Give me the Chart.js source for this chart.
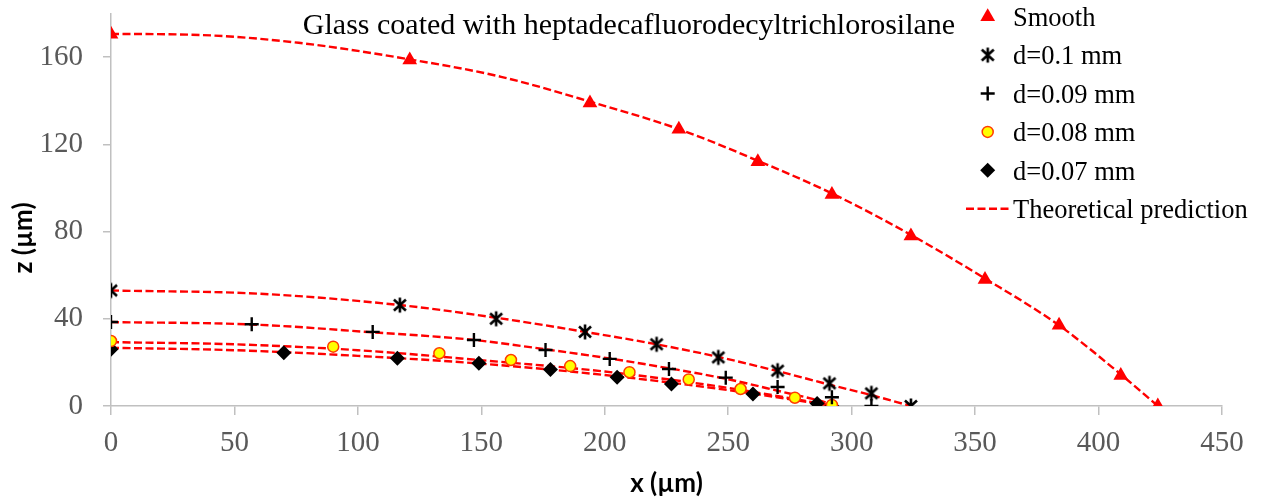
<!DOCTYPE html>
<html lang="en">
<head>
  <meta charset="UTF-8">
  <title>Glass coated with heptadecafluorodecyltrichlorosilane</title>
  <script src="https://cdn.jsdelivr.net/npm/chart.js"></script>
  <style>
    body { margin: 0; background: #fff; }
    #wrap { width: 1263px; height: 499px; position: relative; }
  </style>
</head>
<body>
<div id="wrap"><canvas id="chart"></canvas></div>

<script>
  // measured points (x in µm, z in µm)
  const smoothX = [0, 121, 194, 230, 262, 292, 324, 354, 384, 409, 424];
  const smoothZ = [170.5, 158.7, 139, 127, 112, 97, 78, 58, 37, 14, 0];
  const d01X = [0, 117, 156, 192, 221, 246, 270, 291, 308, 324];
  const d01Z = [53, 46.3, 40, 34, 28.3, 22.3, 16.2, 10.4, 5.8, 0];
  const d009X = [0, 57, 106, 147, 176, 202, 226, 249, 270, 292, 308];
  const d009Z = [38.5, 37.5, 34, 30.3, 25.7, 21.6, 17, 13, 8.7, 4, 0];
  const d008X = [0, 90, 133, 162, 186, 210, 234, 255, 277, 292];
  const d008Z = [29.8, 27.2, 24.2, 21.1, 18.3, 15.5, 12.2, 7.8, 3.8, 0.5];
  const d007X = [0, 70, 116, 149, 178, 205, 227, 260, 286, 292];
  const d007Z = [26, 24.4, 21.9, 19.6, 16.8, 13.2, 10.1, 5.5, 1.2, 0];

  // theoretical prediction curves
  const fitSmoothX = [0, 36, 76, 122, 158, 195, 230, 262, 292, 324, 354, 384, 409, 424];
  const fitSmoothZ = [170.7, 170.2, 166.6, 158.8, 151, 139.3, 127, 112.5, 97.5, 78.5, 58.5, 37, 14.5, 0];
  const fit01X = [0, 60, 117, 156, 192, 221, 246, 270, 291, 308, 324];
  const fit01Z = [53, 51.5, 46.3, 40.5, 34, 28.3, 22.5, 16, 9.8, 5, 0];
  const fit009X = [0, 57, 106, 147, 176, 202, 226, 249, 270, 290, 294];
  const fit009Z = [38.5, 37.4, 33.8, 30.3, 26, 21.8, 17.3, 12.5, 7, 1.5, 0];
  const fit008X = [0, 50, 100, 150, 200, 250, 293];
  const fit008Z = [29.3, 28.3, 25.6, 21, 15.8, 8.3, 0];
  const fit007X = [0, 50, 100, 150, 200, 250, 293];
  const fit007Z = [26.7, 25.6, 23, 19.4, 14.2, 7.3, 0];

  const xTicks = [0, 50, 100, 150, 200, 250, 300, 350, 400, 450];
  const yTicks = [0, 40, 80, 120, 160];

  const chartTitle = "Glass coated with heptadecafluorodecyltrichlorosilane";
  const legendLabels = ["Smooth", "d=0.1 mm", "d=0.09 mm", "d=0.08 mm", "d=0.07 mm", "Theoretical prediction"];

  const serif = '"Liberation Serif", "Times New Roman", serif';
  const sans = 'Lato, "Liberation Sans", sans-serif';

  function pts(xs, ys) {
    return xs.map((x, i) => ({ x, y: ys[i] }));
  }

  // excel-like asterisk marker (X plus a vertical bar)
  function makeAsterisk() {
    const c = document.createElement("canvas");
    c.width = 18; c.height = 18;
    const g = c.getContext("2d");
    g.strokeStyle = "#000";
    g.lineWidth = 2.6;
    g.beginPath();
    g.moveTo(9, 1.5); g.lineTo(9, 16.5);
    g.moveTo(3, 3.5); g.lineTo(15, 14.5);
    g.moveTo(15, 3.5); g.lineTo(3, 14.5);
    g.stroke();
    return c;
  }
  const asterisk = makeAsterisk();

  const markerSets = [
    { label: legendLabels[0], data: pts(smoothX, smoothZ), pointStyle: "triangle", pointRadius: 8.5,
      backgroundColor: "#ff0000", borderColor: "#ff0000", borderWidth: 0 },
    { label: legendLabels[1], data: pts(d01X, d01Z), pointStyle: asterisk, pointRadius: 8,
      backgroundColor: "#000", borderColor: "#000", borderWidth: 0 },
    { label: legendLabels[2], data: pts(d009X, d009Z), pointStyle: "cross", pointRadius: 7,
      backgroundColor: "#000", borderColor: "#000", borderWidth: 2.4 },
    { label: legendLabels[3], data: pts(d008X, d008Z), pointStyle: "circle", pointRadius: 5.5,
      backgroundColor: "#ffff00", borderColor: "#ff3c00", borderWidth: 1.5 },
    { label: legendLabels[4], data: pts(d007X, d007Z), pointStyle: "rectRot", pointRadius: 7.5,
      backgroundColor: "#000", borderColor: "#000", borderWidth: 0 }
  ].map(d => Object.assign(d, { showLine: false, order: 0, pointHoverRadius: d.pointRadius }));

  const fitSets = [
    pts(fitSmoothX, fitSmoothZ), pts(fit01X, fit01Z), pts(fit009X, fit009Z),
    pts(fit008X, fit008Z), pts(fit007X, fit007Z)
  ].map(data => ({
    label: legendLabels[5],
    data,
    showLine: true,
    pointRadius: 0,
    borderColor: "#ff0000",
    borderWidth: 2.4,
    borderDash: [8, 3.5],
    cubicInterpolationMode: "monotone",
    order: 1
  }));

  // title, y-axis title and legend drawn over the plot like the original
  const overlay = {
    id: "overlay",
    afterDraw(chart) {
      const ctx = chart.ctx;
      ctx.save();
      ctx.fillStyle = "#000";
      ctx.font = "30px " + serif;
      ctx.textAlign = "center";
      ctx.textBaseline = "alphabetic";
      ctx.fillText(chartTitle, 629, 34);

      // z axis title
      ctx.save();
      ctx.translate(24, 238);
      ctx.rotate(-Math.PI / 2);
      ctx.font = "bold 26px " + sans;
      ctx.textBaseline = "middle";
      ctx.fillText("z (µm)", 0, 0);
      ctx.restore();

      // legend
      ctx.textAlign = "left";
      ctx.font = "26.5px " + serif;
      legendLabels.forEach((txt, i) => {
        const base = 26 + i * 38.4;
        const my = base - 9.3;
        if (i < markerSets.length) {
          const ds = markerSets[i];
          ctx.fillStyle = ds.backgroundColor;
          ctx.strokeStyle = ds.borderColor;
          ctx.lineWidth = ds.borderWidth;
          Chart.helpers.drawPoint(ctx, {
            pointStyle: ds.pointStyle, radius: ds.pointRadius, rotation: 0, borderWidth: ds.borderWidth
          }, 987.7, my);
        } else {
          ctx.strokeStyle = "#ff0000";
          ctx.lineWidth = 2.4;
          ctx.setLineDash([8, 3.5]);
          ctx.beginPath();
          ctx.moveTo(966, my);
          ctx.lineTo(1011, my);
          ctx.stroke();
          ctx.setLineDash([]);
        }
        ctx.fillStyle = "#000";
        ctx.fillText(txt, 1013, base);
      });
      ctx.restore();
    }
  };

  new Chart(document.getElementById("chart"), {
    type: "scatter",
    data: { datasets: markerSets.concat(fitSets) },
    options: {
      responsive: true,
      maintainAspectRatio: false,
      animation: false,
      layout: { padding: { top: 13.6, right: 41, bottom: 0, left: 0 } },
      plugins: {
        legend: { display: false },
        tooltip: { enabled: false },
        title: { display: false }
      },
      scales: {
        x: {
          type: "linear",
          min: 0,
          max: 450,
          afterBuildTicks: s => { s.ticks = xTicks.map(v => ({ value: v })); },
          afterFit: s => { s.height = 93; s.paddingLeft = 0; s.paddingRight = 0; },
          grid: { drawOnChartArea: false, drawTicks: true, tickLength: 9, color: "#c0c0c0", lineWidth: 1.5 },
          border: { color: "#c0c0c0", width: 1.5 },
          ticks: { color: "#595959", font: { family: serif, size: 29 }, padding: 11, maxRotation: 0 },
          title: {
            display: true, text: "x (µm)", color: "#000",
            font: { family: sans, size: 26, weight: "bold", lineHeight: 1.2 },
            padding: { top: 0, bottom: 0 }
          }
        },
        y: {
          type: "linear",
          min: 0,
          max: 180,
          afterBuildTicks: s => { s.ticks = yTicks.map(v => ({ value: v })); },
          afterFit: s => { s.width = 111; s.paddingTop = 0; s.paddingBottom = 0; },
          grid: { drawOnChartArea: false, drawTicks: true, tickLength: 8, color: "#c0c0c0", lineWidth: 1.5 },
          border: { color: "#c0c0c0", width: 1.5 },
          ticks: { color: "#595959", font: { family: serif, size: 29 }, padding: 20 }
        }
      }
    },
    plugins: [overlay]
  });
</script>
</body>
</html>
